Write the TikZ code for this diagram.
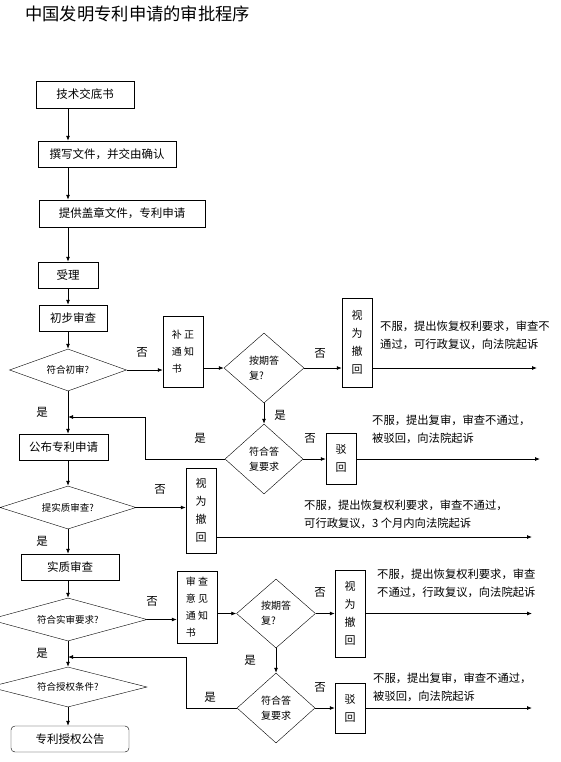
\documentclass[tikz,border=0pt]{standalone}
\usepackage{fontspec}
\setmainfont{Noto Sans CJK SC}
\usepackage{tikz}
\usetikzlibrary{arrows.meta,shapes.geometric}

\begin{document}
\begin{tikzpicture}[
x=1pt, y=-1pt,
box/.style={draw, inner sep=0pt, align=center, font=\fontsize{11.5}{14}\selectfont},
vbox/.style={draw, inner sep=0pt, align=center, font=\fontsize{11}{18}\selectfont},
nbox/.style={draw, inner sep=0pt, align=left, font=\fontsize{10}{17}\selectfont},
dia/.style={draw, diamond, inner sep=0pt, aspect=3, align=center, font=\fontsize{9.5}{12}\selectfont},
qdia/.style={draw, diamond, inner sep=0pt, aspect=1, font=\fontsize{10}{15}\selectfont},
lbl/.style={inner sep=0pt, font=\fontsize{11.5}{14}\selectfont},
note/.style={anchor=west, inner sep=0pt, align=left, font=\fontsize{11.3}{18}\selectfont},
arr/.style={-{Latex[length=5pt,width=4pt]}, line width=0.8pt}
]
\useasboundingbox (0,0) rectangle (560,762);
\clip (0,0) rectangle (560,762);

\node[anchor=west, inner sep=0pt, font=\fontsize{17.3}{20}\selectfont] (title) at (25,14) {中国发明专利申请的审批程序};

% main column
\node[box, minimum width=98, minimum height=27] (jsj) at (85,94.5) {技术交底书};
\node[box, minimum width=138, minimum height=26] (zxwj) at (107,154) {撰写文件，并交由确认};
\node[box, minimum width=166, minimum height=27] (tgwj) at (122,213.5) {提供盖章文件，专利申请};
\node[box, minimum width=60, minimum height=26] (sl) at (68,275) {受理};
\node[box, minimum width=68, minimum height=26] (cbsc) at (73,318) {初步审查};
\node[dia, minimum width=117, minimum height=42] (fhcs) at (68,370) {符合初审?};
\node[box, minimum width=89, minimum height=26] (gbsq) at (63.5,447) {公布专利申请};
\node[dia, minimum width=136, minimum height=43] (tszsc) at (68,507.5) {提实质审查?};
\node[box, minimum width=98, minimum height=26] (szsc) at (70,567) {实质审查};
\node[dia, minimum width=158, minimum height=43] (fhss) at (68,619.5) {符合实审要求?};
\node[dia, minimum width=158, minimum height=40] (fhsq) at (68,687) {符合授权条件?};
\node[box, rounded corners=4pt, minimum width=118, minimum height=26] (sqgg) at (70,739) {专利授权公告};

% preliminary examination branch
\node[nbox, minimum width=40, minimum height=71] (bztz) at (183,351.5) {补~正\\通~知\\书};
\node[qdia, align=left, minimum width=80, minimum height=70] (aqdf1) at (264,368) {按期答\\复?};
\node[vbox, minimum width=30, minimum height=89] (swch1) at (357,342.5) {视\\为\\撤\\回};
\node[qdia, align=center, minimum width=78, minimum height=70] (fhdf1) at (264,459) {符合答\\复要求};
\node[vbox, minimum width=30, minimum height=51] (bh1) at (341,458.5) {驳\\回};
\node[vbox, minimum width=30, minimum height=85] (swch2) at (201,510.5) {视\\为\\撤\\回};

% substantive examination branch
\node[nbox, minimum width=40, minimum height=72] (scyj) at (197,607) {审~查\\意~见\\通~知\\书};
\node[qdia, align=left, minimum width=79, minimum height=69] (aqdf2) at (276,613.5) {按期答\\复?};
\node[vbox, minimum width=30, minimum height=87] (swch3) at (350,613.5) {视\\为\\撤\\回};
\node[qdia, align=center, minimum width=78, minimum height=70] (fhdf2) at (276,708) {符合答\\复要求};
\node[vbox, minimum width=30, minimum height=50] (bh2) at (350,708) {驳\\回};

% remarks
\node[note] (nt1) at (380,335) {不服，提出恢复权利要求，审查不\\通过，可行政复议，向法院起诉};
\node[note] (nt2) at (372,429.5) {不服，提出复审，审查不通过，\\被驳回，向法院起诉};
\node[note] (nt3) at (304,514) {不服，提出恢复权利要求，审查不通过，\\可行政复议，3 个月内向法院起诉};
\node[note] (nt4) at (377,583.5) {不服，提出恢复权利要求，审查\\不通过，行政复议，向法院起诉};
\node[note] (nt5) at (373,687) {不服，提出复审，审查不通过，\\被驳回，向法院起诉};

% yes / no
\node[lbl] (no1) at (142,352) {否};
\node[lbl] (no2) at (320,353) {否};
\node[lbl] (yes1) at (280,415) {是};
\node[lbl] (yes2) at (42,412) {是};
\node[lbl] (yes3) at (200,438) {是};
\node[lbl] (no3) at (310,438) {否};
\node[lbl] (no4) at (160,489) {否};
\node[lbl] (yes4) at (42,541) {是};
\node[lbl] (no5) at (152,601) {否};
\node[lbl] (no6) at (320,592) {否};
\node[lbl] (yes5) at (250,660) {是};
\node[lbl] (yes6) at (42,653) {是};
\node[lbl] (yes7) at (210,697) {是};
\node[lbl] (no7) at (320,687) {否};

\coordinate (e1) at (537,368);
\coordinate (e2) at (540,459);
\coordinate (e3) at (532,537);
\coordinate (e4) at (532,613.5);
\coordinate (e5) at (532,708);
\coordinate (j1) at (68,417);
\coordinate (j2) at (68,657);

\draw[arr] (jsj.south -| fhcs) -- (zxwj.north -| fhcs);
\draw[arr] (zxwj.south -| fhcs) -- (tgwj.north -| fhcs);
\draw[arr] (tgwj.south -| fhcs) -- (sl.north -| fhcs);
\draw[arr] (sl.south -| fhcs) -- (cbsc.north -| fhcs);
\draw[arr] (cbsc.south -| fhcs) -- (fhcs.north);
\draw[arr] (fhcs.south) -- (gbsq.north -| fhcs);
\draw[arr] (gbsq.south -| fhcs) -- (tszsc.north);
\draw[arr] (tszsc.south) -- (szsc.north -| fhcs);
\draw[arr] (szsc.south -| fhcs) -- (fhss.north);
\draw[arr] (fhss.south) -- (fhsq.north);
\draw[arr] (fhsq.south) -- (sqgg.north -| fhcs);

\draw[arr] (fhcs.east) -- (bztz.west |- fhcs);
\draw[arr] (bztz.east |- aqdf1) -- (aqdf1.west);
\draw[arr] (aqdf1.east) -- (swch1.west |- aqdf1);
\draw[arr] (swch1.east |- aqdf1) -- (e1);
\draw[arr] (aqdf1.south) -- (fhdf1.north);
\draw[arr] (fhdf1.east) -- (bh1.west |- fhdf1);
\draw[arr] (bh1.east |- fhdf1) -- (e2);
\draw[arr] (fhdf1.west) -- ++(-79,0) |- (j1);
\draw[arr] (tszsc.east) -- (swch2.west |- tszsc);
\draw[arr] (swch2.east |- e3) -- (e3);

\draw[arr] (fhss.east) -- (scyj.west |- fhss);
\draw[arr] (scyj.east |- aqdf2) -- (aqdf2.west);
\draw[arr] (aqdf2.east) -- (swch3.west |- aqdf2);
\draw[arr] (swch3.east |- aqdf2) -- (e4);
\draw[arr] (aqdf2.south) -- (fhdf2.north);
\draw[arr] (fhdf2.east) -- (bh2.west);
\draw[arr] (bh2.east) -- (e5);
\draw[arr] (fhdf2.west) -- ++(-50,0) |- (j2);

\end{tikzpicture}
\end{document}
